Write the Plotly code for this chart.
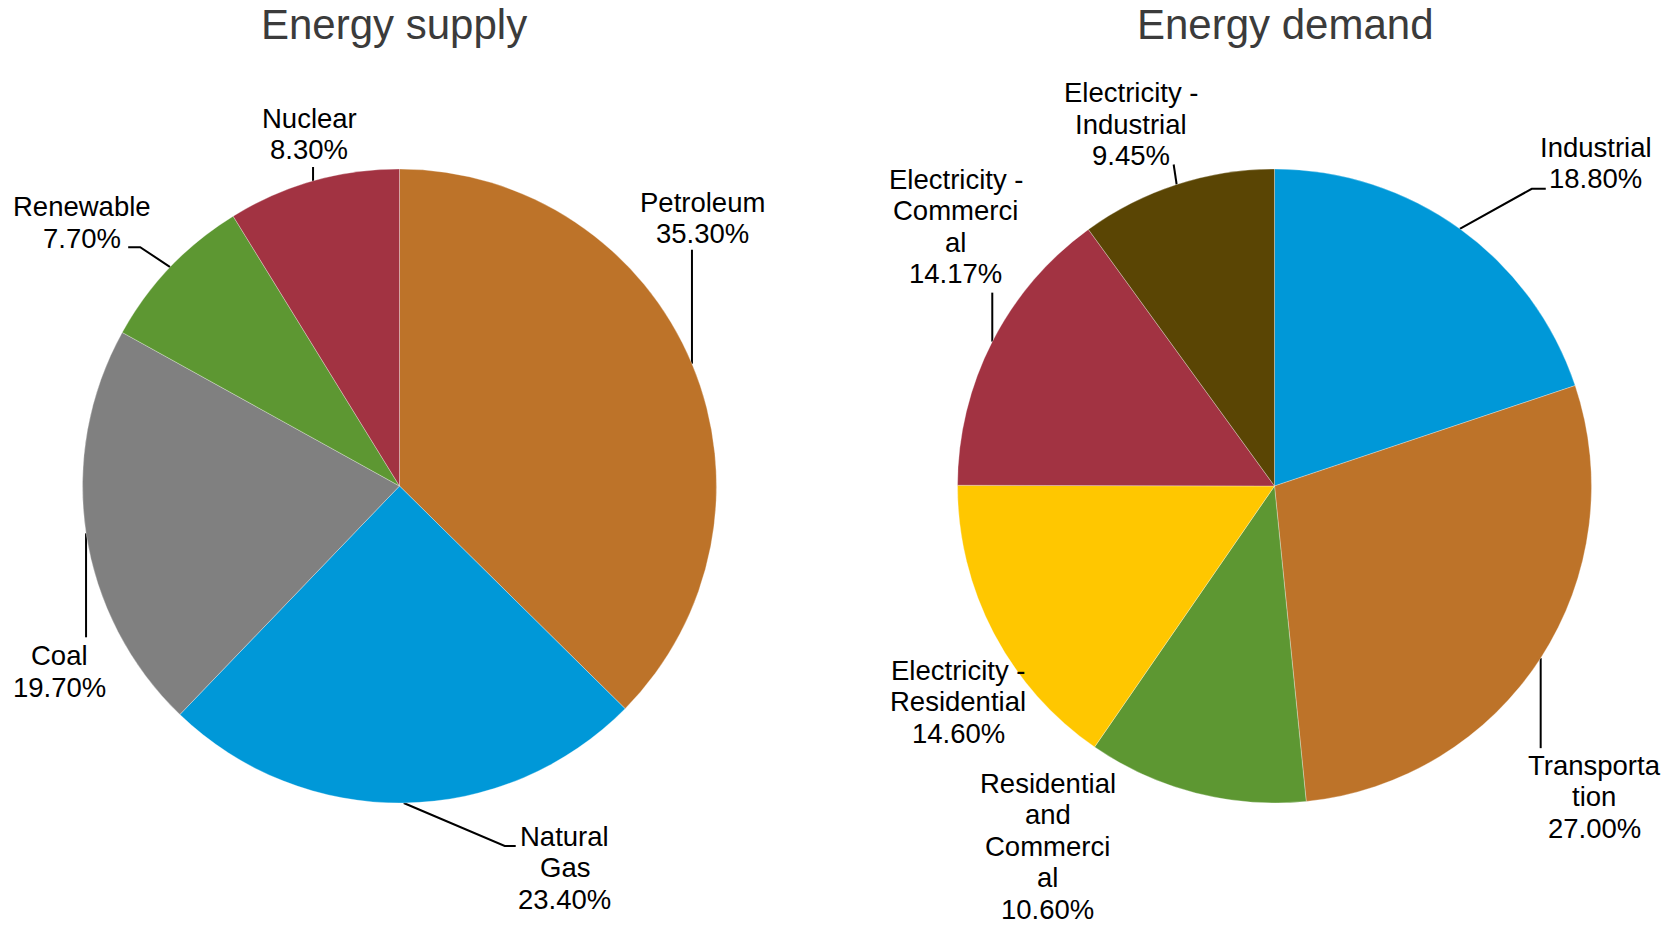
import math
import plotly.graph_objects as go

W, H = 1675, 926

# ---- data -------------------------------------------------------------
supply_labels = ["Petroleum", "Natural Gas", "Coal", "Renewable", "Nuclear"]
supply_values = [35.3, 23.4, 19.7, 7.7, 8.3]
supply_colors = ["#BD7329", "#0098D8", "#808080", "#5D9732", "#A23342"]
supply_lines = [["Petroleum"], ["Natural", "Gas"], ["Coal"], ["Renewable"], ["Nuclear"]]

demand_labels = ["Industrial", "Transportation", "Residential and Commercial",
                 "Electricity - Residential", "Electricity - Commercial",
                 "Electricity - Industrial"]
demand_values = [18.8, 27.0, 10.6, 14.6, 14.17, 9.45]
demand_colors = ["#0098D8", "#BD7329", "#5D9732", "#FFC700", "#A23342", "#5A4504"]
demand_lines = [["Industrial"], ["Transporta", "tion"],
                ["Residential", "and", "Commerci", "al"],
                ["Electricity -", "Residential"],
                ["Electricity -", "Commerci", "al"],
                ["Electricity -", "Industrial"]]

# ---- label placement (pixel offsets from the slice's outer mid-point) ----
# leader: bend points of the connector, text: (centre x, first baseline)
supply_place = [
    dict(leader=[(0, -114)], text=(11, -152)),
    dict(leader=[(101, 43), (112, 43)], text=(161, 43)),
    dict(leader=[(0, 104)], text=(-27, 132)),
    dict(leader=[(-30, -20), (-42, -20)], text=(-88, -51)),
    dict(leader=[(0, -14)], text=(-4, -53)),
]
demand_place = [
    dict(leader=[(72, -40), (86, -40)], text=(136, -72)),
    dict(leader=[(0, 90)], text=(53.5, 116.5)),
    dict(leader=[], text=(-148, 0)),
    dict(leader=[], text=(-35.5, 46.7)),
    dict(leader=[(0, -49)], text=(-36.5, -152.7)),
    dict(leader=[(-3, -20)], text=(-45.5, -82)),
]

R = 317
CY = 486
pies = [
    dict(title="Energy supply", cx=399.5, title_x=394, labels=supply_labels,
         values=supply_values, colors=supply_colors, lines=supply_lines,
         place=supply_place),
    dict(title="Energy demand", cx=1274.5, title_x=1285, labels=demand_labels,
         values=demand_values, colors=demand_colors, lines=demand_lines,
         place=demand_place),
]

FONT = "Liberation Sans, Arial, sans-serif"
FS = 27.5
TITLE_FS = 42
LINE_GAP = 31.5

fig = go.Figure()
annotations = []

for p in pies:
    cx = p["cx"]
    fig.add_trace(go.Pie(
        labels=p["labels"], values=p["values"],
        marker=dict(colors=p["colors"], line=dict(color="rgba(255,255,255,0.5)", width=0.6)),
        sort=False, direction="clockwise", rotation=0,
        textinfo="none", hoverinfo="label+value", showlegend=False,
        domain=dict(x=[(cx - R) / W, (cx + R) / W],
                    y=[(H - CY - R) / H, (H - CY + R) / H]),
    ))

    total = sum(p["values"])
    cum = 0.0
    for v, lines, pl in zip(p["values"], p["lines"], p["place"]):
        mid = math.radians(360.0 * (cum + v / 2.0) / total)
        cum += v
        ex = cx + R * math.sin(mid)
        ey = CY - R * math.cos(mid)

        if pl["leader"]:
            xs = [ex] + [ex + dx for dx, _ in pl["leader"]]
            ys = [ey] + [ey + dy for _, dy in pl["leader"]]
            fig.add_trace(go.Scatter(
                x=xs, y=ys, mode="lines", line=dict(color="black", width=2),
                hoverinfo="skip", showlegend=False, xaxis="x", yaxis="y"))

        tx = ex + pl["text"][0]
        base = ey + pl["text"][1]
        for i, line in enumerate(lines + [f"{v:.2f}%"]):
            b = base + i * LINE_GAP
            annotations.append(dict(
                x=tx, y=b - 0.35 * FS, xref="x", yref="y", text=line,
                showarrow=False, xanchor="center", yanchor="middle",
                font=dict(family=FONT, size=FS, color="black")))

    annotations.append(dict(
        x=p["title_x"], y=39.5 - 0.35 * TITLE_FS, xref="x", yref="y", text=p["title"],
        showarrow=False, xanchor="center", yanchor="middle",
        font=dict(family=FONT, size=TITLE_FS, color="#3B3B3B")))

fig.update_layout(
    width=W, height=H,
    margin=dict(l=0, r=0, t=0, b=0),
    paper_bgcolor="white", plot_bgcolor="rgba(0,0,0,0)",
    xaxis=dict(range=[0, W], domain=[0, 1], visible=False, fixedrange=True),
    yaxis=dict(range=[H, 0], domain=[0, 1], visible=False, fixedrange=True),
    annotations=annotations,
    showlegend=False,
)

fig.write_html("out.html")
